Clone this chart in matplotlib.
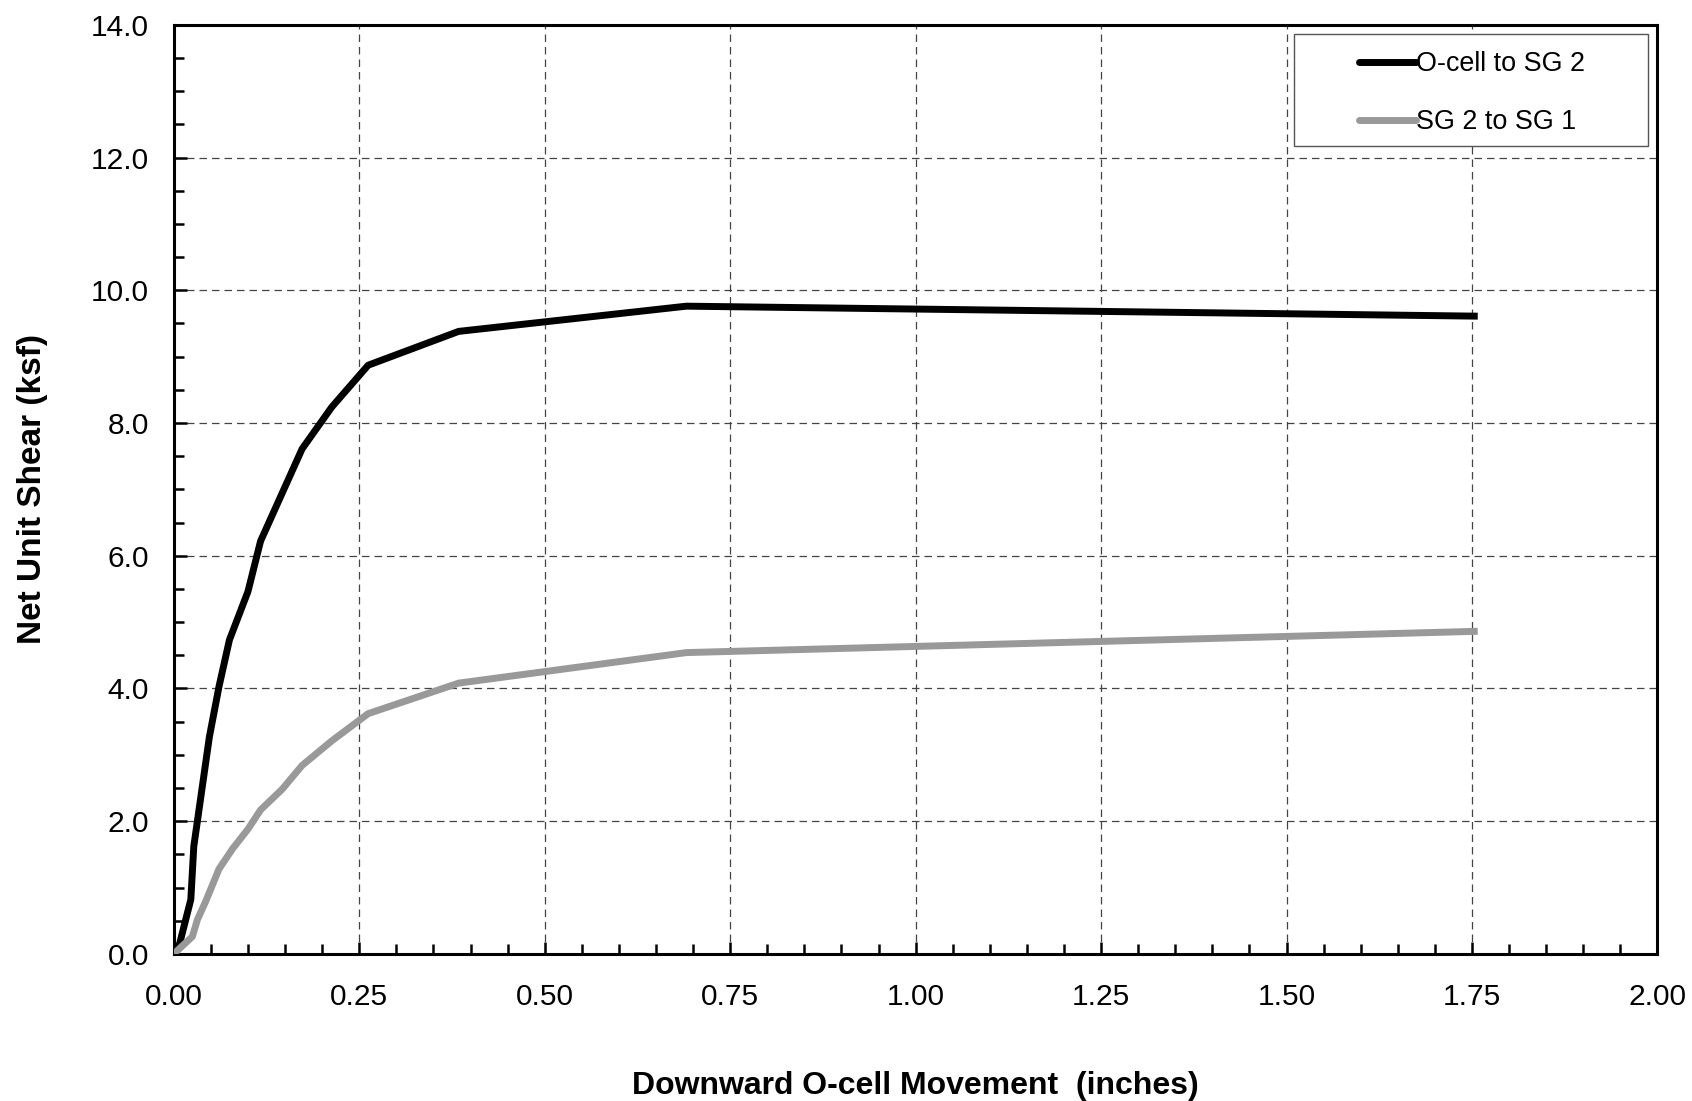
import numpy as np
import matplotlib
matplotlib.use("Agg")
import matplotlib.pyplot as plt
from matplotlib.patches import Rectangle
from matplotlib.ticker import MultipleLocator, FormatStrFormatter

# 数据
move_sg2 = [0.0, 0.008, 0.023, 0.027, 0.048, 0.061, 0.075, 0.100, 0.117, 0.173, 0.213, 0.262, 0.384, 0.691, 1.753]
shear_sg2 = [0.0, 0.16, 0.82, 1.62, 3.27, 4.03, 4.73, 5.46, 6.22, 7.61, 8.24, 8.87, 9.38, 9.76, 9.61]

move_sg1 = [0.0, 0.025, 0.032, 0.043, 0.061, 0.079, 0.100, 0.117, 0.146, 0.173, 0.213, 0.262, 0.384, 0.691, 1.753]
shear_sg1 = [0.0, 0.26, 0.52, 0.79, 1.28, 1.58, 1.88, 2.17, 2.48, 2.84, 3.21, 3.62, 4.08, 4.54, 4.86]

series_names = ["O-cell to SG 2", "SG 2 to SG 1"]

plt.rcParams['font.family'] = ['Liberation Sans', 'DejaVu Sans']

fig = plt.figure(figsize=(16.92, 11.01), dpi=100)
ax = fig.add_axes([0.1027, 0.1336, 0.8769, 0.8439])

ax.plot(move_sg2, shear_sg2, color="black", lw=5, label=series_names[0], zorder=3)
ax.plot(move_sg1, shear_sg1, color="#999999", lw=5, label=series_names[1], zorder=3)

ax.set_xlim(0, 2.0)
ax.set_ylim(0, 14.0)
ax.xaxis.set_major_locator(MultipleLocator(0.25))
ax.xaxis.set_minor_locator(MultipleLocator(0.05))
ax.yaxis.set_major_locator(MultipleLocator(2.0))
ax.yaxis.set_minor_locator(MultipleLocator(0.5))
ax.xaxis.set_major_formatter(FormatStrFormatter("%.2f"))
ax.yaxis.set_major_formatter(FormatStrFormatter("%.1f"))

ax.tick_params(which="both", direction="in", width=1.8, labelsize=21.5)
ax.tick_params(which="major", length=9)
ax.tick_params(axis="x", which="major", pad=21)
ax.tick_params(axis="y", which="major", pad=18)
ax.tick_params(which="minor", length=7)

for s in ax.spines.values():
    s.set_linewidth(2.2)

ax.grid(True, which="major", color="#444444", linestyle=(0, (6, 4)), linewidth=0.9)

ax.set_xlabel("Downward O-cell Movement  (inches)", fontsize=23, fontweight="bold", labelpad=43)
ax.set_ylabel("Net Unit Shear (ksf)", fontsize=24, fontweight="bold", labelpad=31)

# 图例: 无边框, 另画一个矩形框
ax.add_patch(Rectangle((0.755, 0.8699), 0.9937 - 0.755, 0.9896 - 0.8699, transform=ax.transAxes,
                       facecolor="white", edgecolor="#555555", linewidth=1.0, zorder=4))
leg = ax.legend(loc="center left", bbox_to_anchor=(0.7985, 0.9265), fontsize=19.4, frameon=False,
                handlelength=2.15, handletextpad=0.0, labelspacing=1.18, borderpad=0,
                borderaxespad=0)
leg.set_zorder(5)
for h in leg.get_lines():
    h.set_solid_capstyle("round")

fig.savefig("out.png", dpi=100)
